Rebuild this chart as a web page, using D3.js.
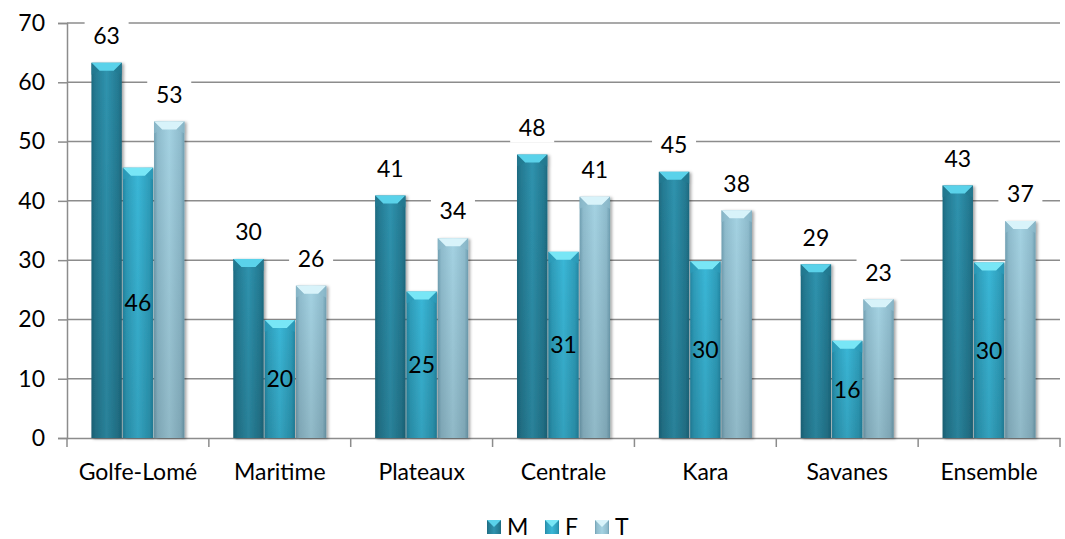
<!DOCTYPE html>
<html><head><meta charset="utf-8">
<script src="https://cdn.jsdelivr.net/npm/d3@7/dist/d3.min.js"></script>
<style>body{margin:0;background:#fff}svg{display:block;font-family:Lato,"Open Sans",sans-serif}</style>
</head><body><svg id="c" width="1065" height="539"></svg>
<script>
const categories = ["Golfe-Lomé","Maritime","Plateaux","Centrale","Kara","Savanes","Ensemble"];
const seriesNames = ["M","F","T"];
const valuesM = [63.3, 30.2, 40.9, 47.8, 44.9, 29.3, 42.6];
const valuesF = [45.6, 19.9, 24.7, 31.4, 29.8, 16.4, 29.6];
const valuesT = [53.4, 25.7, 33.7, 40.7, 38.4, 23.4, 36.6];
const labelsM = [63, 30, 41, 48, 45, 29, 43];
const labelsF = [46, 20, 25, 31, 30, 16, 30];
const labelsT = [53, 26, 34, 41, 38, 23, 37];
const yTicks = [0,10,20,30,40,50,60,70];

const FS = 23;
const svg = d3.select("#c");
const m = {l:67, t:23, r:1060, b:438};
const x = d3.scaleBand().domain(categories).range([m.l, m.r]).padding(0);
const xs = d3.scaleBand().domain(seriesNames).range([0, x.bandwidth()]).paddingOuter(0.78).paddingInner(0.03);
const y = d3.scaleLinear().domain([0,70]).range([m.b, m.t]);

const colors = {
  M:{base:"#2f93ae", edge:"#1d6a80", top:"#5ad2ea", dark:"#247a92"},
  F:{base:"#3ab7d7", edge:"#2286a3", top:"#78e6f6", dark:"#2e9dba"},
  T:{base:"#a4d2e2", edge:"#6f9fb2", top:"#d8f3fa", dark:"#8fbccd"}
};
const defs = svg.append("defs");
seriesNames.forEach(s=>{
  const c = colors[s];
  const g = defs.append("linearGradient").attr("id","h"+s).attr("x1","0").attr("x2","1").attr("y1","0").attr("y2","0");
  g.append("stop").attr("offset","0").attr("stop-color",c.edge);
  g.append("stop").attr("offset","0.12").attr("stop-color",c.dark);
  g.append("stop").attr("offset","0.5").attr("stop-color",c.base);
  g.append("stop").attr("offset","0.88").attr("stop-color",c.dark);
  g.append("stop").attr("offset","1").attr("stop-color",c.edge);
  const v = defs.append("linearGradient").attr("id","v"+s).attr("x1","0").attr("x2","0").attr("y1","0").attr("y2","1");
  v.append("stop").attr("offset","0").attr("stop-color","#000").attr("stop-opacity",0);
  v.append("stop").attr("offset","1").attr("stop-color","#000").attr("stop-opacity",0.12);
});
const sh = defs.append("filter").attr("id","sh").attr("x","-20%").attr("y","-5%").attr("width","150%").attr("height","115%");
sh.append("feDropShadow").attr("dx",2).attr("dy",1).attr("stdDeviation",1.5).attr("flood-color","#000").attr("flood-opacity",0.35);

// gridlines
svg.append("g").selectAll("line").data(yTicks.filter(d=>d>0)).join("line")
  .attr("x1",m.l).attr("x2",m.r).attr("y1",d=>y(d)).attr("y2",d=>y(d))
  .attr("stroke","#8c8c8c").attr("stroke-width",1.5);

// y axis
const ya = svg.append("g").attr("transform",`translate(${m.l},0)`)
  .call(d3.axisLeft(y).tickValues(yTicks).tickSize(9).tickPadding(13));
ya.select(".domain").attr("stroke","#8c8c8c").attr("stroke-width",1.5);
ya.selectAll(".tick line").attr("stroke","#8c8c8c").attr("stroke-width",1.5);
ya.selectAll("text").attr("font-size",FS).attr("fill","#000").attr("font-family","Lato,'Open Sans',sans-serif");

// x axis
const xa = svg.append("g").attr("transform",`translate(0,${m.b})`)
  .call(d3.axisBottom(x).tickSize(0).tickPadding(26));
xa.select(".domain").attr("stroke","#8c8c8c").attr("stroke-width",1.5);
xa.selectAll("text").attr("font-size",FS).attr("fill","#000").attr("font-family","Lato,'Open Sans',sans-serif");
svg.append("g").selectAll("line").data(d3.range(categories.length+1)).join("line")
  .attr("x1",i=>m.l+i*x.step()).attr("x2",i=>m.l+i*x.step())
  .attr("y1",m.b).attr("y2",m.b+9).attr("stroke","#8c8c8c").attr("stroke-width",1.5);

const rows = categories.map((c,i)=>({c, vals:[
  {s:"M", v:valuesM[i], l:labelsM[i]},
  {s:"F", v:valuesF[i], l:labelsF[i]},
  {s:"T", v:valuesT[i], l:labelsT[i]}]}));

const bev = 8;
const grp = svg.append("g").selectAll("g").data(rows).join("g").attr("transform",d=>`translate(${x(d.c)},0)`);
const bar = grp.selectAll("g").data(d=>d.vals).join("g").attr("filter","url(#sh)");
bar.append("rect").attr("x",d=>xs(d.s)).attr("width",xs.bandwidth())
  .attr("y",d=>y(d.v)).attr("height",d=>y(0)-y(d.v)).attr("fill",d=>`url(#h${d.s})`);
bar.append("rect").attr("x",d=>xs(d.s)).attr("width",xs.bandwidth())
  .attr("y",d=>y(d.v)).attr("height",d=>y(0)-y(d.v)).attr("fill",d=>`url(#v${d.s})`);
bar.append("polygon").attr("points",d=>{
  const x0=xs(d.s), w=xs.bandwidth(), t=y(d.v);
  return [[x0,t],[x0+w,t],[x0+w-bev,t+bev],[x0+bev,t+bev]].map(p=>p.join(",")).join(" ");
}).attr("fill",d=>colors[d.s].top);
bar.append("polygon").attr("points",d=>{
  const x0=xs(d.s), w=xs.bandwidth(), t=y(d.v);
  return [[x0,t],[x0+bev,t+bev],[x0,t+bev+4]].map(p=>p.join(",")).join(" ");
}).attr("fill",d=>colors[d.s].dark).attr("opacity",0.7);
bar.append("polygon").attr("points",d=>{
  const x0=xs(d.s), w=xs.bandwidth(), t=y(d.v);
  return [[x0+w,t],[x0+w-bev,t+bev],[x0+w,t+bev+4]].map(p=>p.join(",")).join(" ");
}).attr("fill",d=>colors[d.s].dark).attr("opacity",0.7);

// labels
const lab = grp.selectAll("g.lab").data(d=>d.vals).join("g").attr("class","lab")
  .attr("transform",d=>{
    const cx = xs(d.s)+xs.bandwidth()/2;
    const cy = d.s==="F" ? (y(d.v)+y(0))/2 : y(d.v)-27;
    return `translate(${cx},${cy})`;
  });
lab.filter(d=>d.s!=="F").append("rect").attr("x",-22).attr("y",-15).attr("width",44).attr("height",30).attr("fill","#fff");
lab.append("text").attr("text-anchor","middle").attr("dy","0.36em").attr("font-size",FS).attr("fill","#000").text(d=>d.l);

// legend
const lg = svg.append("g").attr("transform","translate(0,527)");
const lx = [487, 545, 595];
seriesNames.forEach((s,i)=>{
  const g = lg.append("g").attr("transform",`translate(${lx[i]},0)`);
  g.append("rect").attr("x",0).attr("y",-7).attr("width",14).attr("height",14).attr("fill",`url(#h${s})`);
  g.append("polygon").attr("points","0,-7 14,-7 7,0").attr("fill",colors[s].top);
  g.append("text").attr("x",20).attr("dy","0.36em").attr("font-size",FS).attr("fill","#000").text(s);
});
</script></body></html>
